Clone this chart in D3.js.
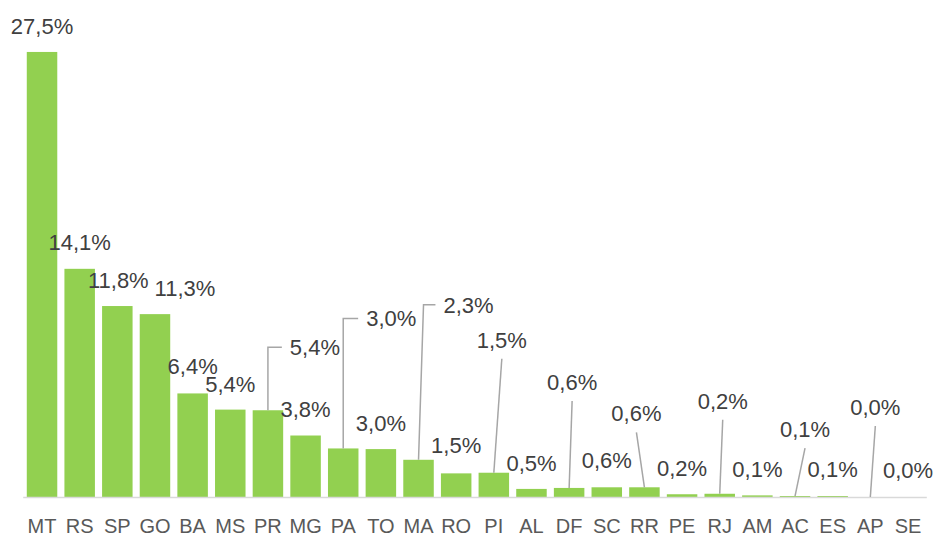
<!DOCTYPE html>
<html>
<head>
<meta charset="utf-8">
<script src="https://cdn.jsdelivr.net/npm/d3@7/dist/d3.min.js"></script>
<style>
  html, body { margin: 0; padding: 0; background: #fff; }
  svg { display: block; }
</style>
</head>
<body>
<svg id="chart" width="934" height="538"></svg>
<script>
// ---- data ----
const categories = ["MT","RS","SP","GO","BA","MS","PR","MG","PA","TO","MA","RO","PI","AL","DF","SC","RR","PE","RJ","AM","AC","ES","AP","SE"];
const values     = [27.5, 14.1, 11.8, 11.3, 6.4, 5.4, 5.36, 3.8, 3.0, 2.96, 2.3, 1.46, 1.5, 0.5, 0.56, 0.6, 0.6, 0.17, 0.2, 0.1, 0.06, 0.06, 0, 0];

// ---- label layout (offsets from bar-top centre, leader type: 0 none, 1 straight, 2 elbow) ----
const labelDx     = [0, 0, 1, 30, 0, 0, 47, 0, 48, 0, 50, 0, 8, 0, 3, 0, -8, 0, 3, 0, 10, 0, 5, 0];
const labelDy     = [-18, -19, -18, -18, -19, -18, -55, -19, -122, -18, -147, -20, -125, -18, -98, -19, -66, -18, -85, -18, -59, -19, -82, -19];
const leaderType  = [0, 0, 0, 0, 0, 0, 2, 0, 2, 0, 2, 0, 1, 0, 1, 0, 1, 0, 1, 0, 1, 0, 1, 0];
const elbowDx     = [0, 0, 0, 0, 0, 0, 0, 0, 0, 0, 5, 0, 0, 0, 0, 0, 0, 0, 0, 0, 0, 0, 0, 0];

const W = 934, H = 538;
const svg = d3.select("#chart");

const x = d3.scaleBand().domain(categories).range([23.2, 926.8]).paddingInner(0.19).paddingOuter(0.095);
const y = d3.scaleLinear().domain([0, 30]).range([497, 11.5]);

const locale = d3.formatLocale({decimal: ",", thousands: ".", grouping: [3], currency: ["R$", ""]});
const fmt = locale.format(".1f");

const data = categories.map((c, i) => ({c, v: values[i], dx: labelDx[i], dy: labelDy[i], lt: leaderType[i], ex: elbowDx[i]}));

// bars
svg.append("g").selectAll("rect").data(data).join("rect")
  .attr("x", d => x(d.c))
  .attr("width", x.bandwidth())
  .attr("y", d => y(d.v))
  .attr("height", d => y(0) - y(d.v))
  .attr("fill", "#92D050");

// axis
const xAxis = d3.axisBottom(x).tickSize(0).tickPadding(0);
const gx = svg.append("g").attr("transform", `translate(0,${y(0)})`).call(xAxis);
gx.select(".domain").attr("stroke", "#D9D9D9").attr("stroke-width", 1.5).attr("d", `M23.2,0.5H926.8`);
gx.selectAll(".tick text")
  .attr("y", 36)
  .attr("dy", 0)
  .attr("fill", "#595959")
  .style("font-family", "'Liberation Sans', Arial, sans-serif")
  .style("font-size", "20px");

// labels & leaders
const labFont = 22;
const lg = svg.append("g");
data.forEach(d => {
  const cx = x(d.c) + x.bandwidth() / 2;
  const top = y(d.v);
  const lx = cx + d.dx;
  const ly = top + d.dy;
  const t = lg.append("text")
    .attr("x", lx).attr("y", ly)
    .attr("text-anchor", "middle")
    .attr("fill", "#404040")
    .style("font-family", "'Liberation Sans', Arial, sans-serif")
    .style("font-size", labFont + "px")
    .text(fmt(d.v) + "%");
  if (d.lt === 1) {
    lg.append("path")
      .attr("d", d3.line()([[cx, top], [lx, ly + 11]]))
      .attr("stroke", "#A6A6A6").attr("stroke-width", 1.5).attr("fill", "none");
  } else if (d.lt === 2) {
    const w = t.node().getComputedTextLength();
    const left = lx - w / 2 - 8;
    const my = ly - 8;
    lg.append("path")
      .attr("d", d3.line()([[cx, top], [cx + d.ex, my], [left, my]]))
      .attr("stroke", "#A6A6A6").attr("stroke-width", 1.5).attr("fill", "none");
  }
});
</script>
</body>
</html>
